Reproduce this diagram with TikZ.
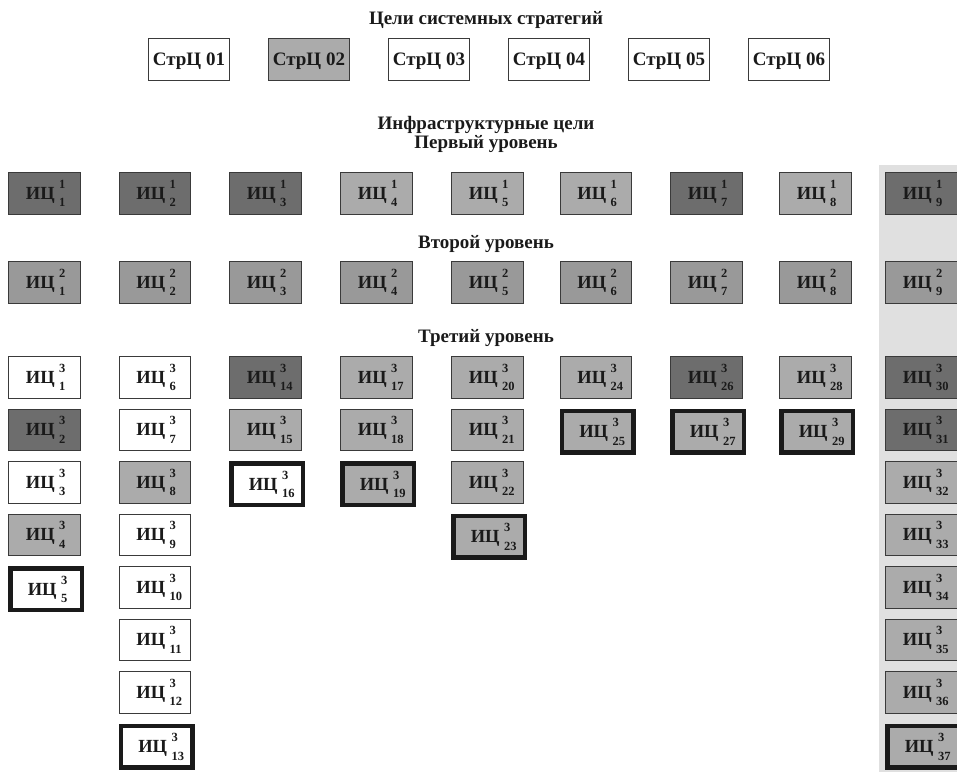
\documentclass[tikz,border=0pt]{standalone}
\usepackage{fontspec}
\setmainfont{Liberation Serif}

\definecolor{darkfill}{HTML}{6D6D6D}
\definecolor{midfill}{HTML}{999999}
\definecolor{lightfill}{HTML}{ABABAB}
\definecolor{panelfill}{HTML}{E0E0E0}
\definecolor{edge}{HTML}{3A3A3A}
\definecolor{ink}{HTML}{1A1A1A}

% size of the level / index digits
\newcommand\idxsize{\fontsize{12.5}{12.5}\selectfont}
% goal label: "ИЦ" with the level above and the number below
\newcommand\icell[2]{\makebox[71.5pt][l]{\hspace{17.5pt}ИЦ\hspace{4.5pt}\rlap{\raisebox{11pt}{\idxsize #1}}\raisebox{-7.5pt}{\idxsize #2}}}

\begin{document}
\begin{tikzpicture}[x=1pt,y=-1pt,
  heading/.style={font=\fontsize{19}{19}\selectfont\bfseries, anchor=base, inner sep=0pt, text=ink},
  strat/.style={draw=edge, line width=0.9pt, fill=#1, minimum width=81pt, minimum height=42pt,
    inner sep=0pt, anchor=north west, text=ink, font=\fontsize{19}{19}\selectfont\bfseries,
    text height=12.4pt, text depth=0pt},
  cell/.style={draw=edge, line width=0.9pt, fill=#1, minimum width=71.5pt, minimum height=41.5pt,
    inner sep=0pt, anchor=north west, text=ink, font=\fontsize{18.5}{18.5}\selectfont\bfseries,
    text height=12.1pt, text depth=0pt},
  keycell/.style={cell=#1, draw=ink, line width=4.5pt}
]
\useasboundingbox (0,0) rectangle (957,772);

% shaded band behind the ninth column
\node[fill=panelfill, anchor=north west, inner sep=0pt, minimum width=78pt, minimum height=607pt] (panel) at (879,165) {};

% system strategy goals
\node[heading] (title) at (486,24) {Цели системных стратегий};
\foreach \i/\x/\c in {1/148/white, 2/268/lightfill, 3/388/white, 4/508/white, 5/628/white, 6/748/white}
  \node[strat=\c] (s\i) at (\x,38) {СтрЦ 0\i};

% infrastructure goals
\node[heading] (infra) at (486,129) {Инфраструктурные цели};
\node[heading] (lev1) at (486,148) {Первый уровень};
\node[heading] (lev2) at (486,248) {Второй уровень};
\node[heading] (lev3) at (486,342) {Третий уровень};

% first level
\foreach \i/\x/\c in {1/8/darkfill, 2/118.5/darkfill, 3/229/darkfill, 4/340/lightfill, 5/451/lightfill,
    6/559.5/lightfill, 7/670/darkfill, 8/779/lightfill, 9/885/darkfill}
  \node[cell=\c] (a\i) at (\x,172) {\icell{1}{\i}};

% second level
\foreach \i/\x in {1/8, 2/118.5, 3/229, 4/340, 5/451, 6/559.5, 7/670, 8/779, 9/885}
  \node[cell=midfill] (b\i) at (\x,261) {\icell{2}{\i}};

% third level
\foreach \i/\x/\y/\c in {
    1/8/356/white, 2/8/408.5/darkfill, 3/8/461/white, 4/8/513.5/lightfill,
    6/118.5/356/white, 7/118.5/408.5/white, 8/118.5/461/lightfill, 9/118.5/513.5/white,
    10/118.5/566/white, 11/118.5/618.5/white, 12/118.5/671/white,
    14/229/356/darkfill, 15/229/408.5/lightfill,
    17/340/356/lightfill, 18/340/408.5/lightfill,
    20/451/356/lightfill, 21/451/408.5/lightfill, 22/451/461/lightfill,
    24/559.5/356/lightfill, 26/670/356/darkfill, 28/779/356/lightfill,
    30/885/356/darkfill, 31/885/408.5/darkfill, 32/885/461/lightfill, 33/885/513.5/lightfill,
    34/885/566/lightfill, 35/885/618.5/lightfill, 36/885/671/lightfill}
  \node[cell=\c] (c\i) at (\x,\y) {\icell{3}{\i}};

% goals with a heavy frame
\foreach \i/\x/\y/\c in {
    5/8/566/white, 13/118.5/723.5/white, 16/229/461/white, 19/340/461/lightfill,
    23/451/513.5/lightfill, 25/559.5/408.5/lightfill, 27/670/408.5/lightfill,
    29/779/408.5/lightfill, 37/885/723.5/lightfill}
  \node[keycell=\c] (c\i) at (\x,\y) {\icell{3}{\i}};
\end{tikzpicture}
\end{document}
